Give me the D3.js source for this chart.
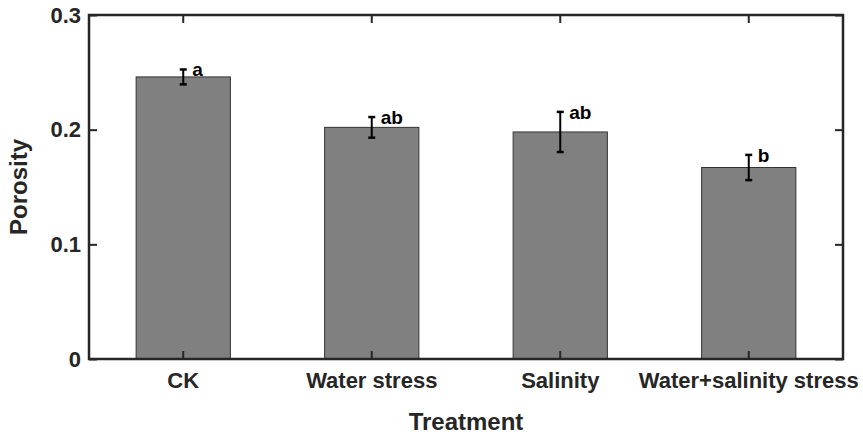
<!DOCTYPE html>
<html>
<head>
<meta charset="utf-8">
<script src="https://cdn.jsdelivr.net/npm/d3@7"></script>
<style>
  html, body { margin: 0; padding: 0; background: #fff; }
  text { font-family: "Liberation Sans", Arial, Helvetica, sans-serif; font-weight: bold; fill: #262626; }
</style>
</head>
<body>
<svg id="chart" width="863" height="438"></svg>
<script>
const categories = ["CK", "Water stress", "Salinity", "Water+salinity stress"];
const means = [0.246, 0.202, 0.198, 0.167];
const errors = [0.0065, 0.009, 0.0175, 0.011];
const letters = ["a", "ab", "ab", "b"];
const yTicks = [0, 0.1, 0.2, 0.3];
const yTickLabels = ["0", "0.1", "0.2", "0.3"];
const xTitle = "Treatment";
const yTitle = "Porosity";

const svg = d3.select("#chart");
const margin = { left: 89, top: 15, right: 863 - 843, bottom: 438 - 359 };
const W = 863 - margin.left - margin.right;
const H = 438 - margin.top - margin.bottom;
const axisColor = "#262626";

const g = svg.append("g").attr("transform", `translate(${margin.left},${margin.top})`);

const x = d3.scaleBand().domain(categories).range([0, W]).paddingInner(0.5).paddingOuter(0.25);
const y = d3.scaleLinear().domain([0, 0.3]).range([H, 0]);

// bars
g.selectAll("rect.bar").data(categories).enter().append("rect")
  .attr("class", "bar")
  .attr("x", d => x(d))
  .attr("width", x.bandwidth())
  .attr("y", (d, i) => y(means[i]))
  .attr("height", (d, i) => H - y(means[i]))
  .attr("fill", "#808080")
  .attr("stroke", "#333333")
  .attr("stroke-width", 1);

// axes (ticks inward)
const yAxis = d3.axisLeft(y).tickValues(yTicks).tickFormat((d, i) => yTickLabels[i]).tickSizeInner(-8).tickSizeOuter(0).tickPadding(8);
const yAxisR = d3.axisRight(y).tickValues(yTicks).tickFormat("").tickSizeInner(-8).tickSizeOuter(0);
const xAxis = d3.axisBottom(x).tickSizeInner(-8).tickSizeOuter(0).tickPadding(13);
const xAxisT = d3.axisTop(x).tickFormat("").tickSizeInner(-8).tickSizeOuter(0);

function styleAxis(sel) {
  sel.select(".domain").remove();
  sel.selectAll(".tick line").attr("stroke", axisColor).attr("stroke-width", 2);
  sel.selectAll(".tick text").attr("fill", axisColor);
}

g.append("g").call(yAxis).call(styleAxis).selectAll("text").style("font-size", "22px");
g.append("g").attr("transform", `translate(${W},0)`).call(yAxisR).call(styleAxis);
g.append("g").attr("transform", `translate(0,${H})`).call(xAxis).call(styleAxis).selectAll("text").style("font-size", "22px");
g.append("g").call(xAxisT).call(styleAxis);

// box
g.append("rect").attr("x", 0).attr("y", 0).attr("width", W).attr("height", H)
  .attr("fill", "none").attr("stroke", axisColor).attr("stroke-width", 2.5);

// error bars
const cap = 3.5;
const eb = g.selectAll("g.eb").data(categories).enter().append("g").attr("class", "eb");
eb.append("line")
  .attr("x1", d => x(d) + x.bandwidth() / 2).attr("x2", d => x(d) + x.bandwidth() / 2)
  .attr("y1", (d, i) => y(means[i] - errors[i])).attr("y2", (d, i) => y(means[i] + errors[i]))
  .attr("stroke", "#000").attr("stroke-width", 2);
[-1, 1].forEach(s => {
  eb.append("line")
    .attr("x1", d => x(d) + x.bandwidth() / 2 - cap).attr("x2", d => x(d) + x.bandwidth() / 2 + cap)
    .attr("y1", (d, i) => y(means[i] + s * errors[i])).attr("y2", (d, i) => y(means[i] + s * errors[i]))
    .attr("stroke", "#000").attr("stroke-width", 2.5);
});

// letters
g.selectAll("text.letter").data(categories).enter().append("text")
  .attr("class", "letter")
  .attr("x", d => x(d) + x.bandwidth() / 2 + 9)
  .attr("y", (d, i) => y(means[i] + errors[i]) + 0)
  .attr("dy", "0.35em")
  .style("font-size", "19px")
  .style("fill", "#000")
  .text((d, i) => letters[i]);

// axis titles
svg.append("text")
  .attr("x", margin.left + W / 2).attr("y", 430)
  .attr("text-anchor", "middle")
  .style("font-size", "24px")
  .text(xTitle);
svg.append("text")
  .attr("transform", `translate(27,${margin.top + H / 2}) rotate(-90)`)
  .attr("text-anchor", "middle")
  .style("font-size", "24px")
  .text(yTitle);
</script>
</body>
</html>
